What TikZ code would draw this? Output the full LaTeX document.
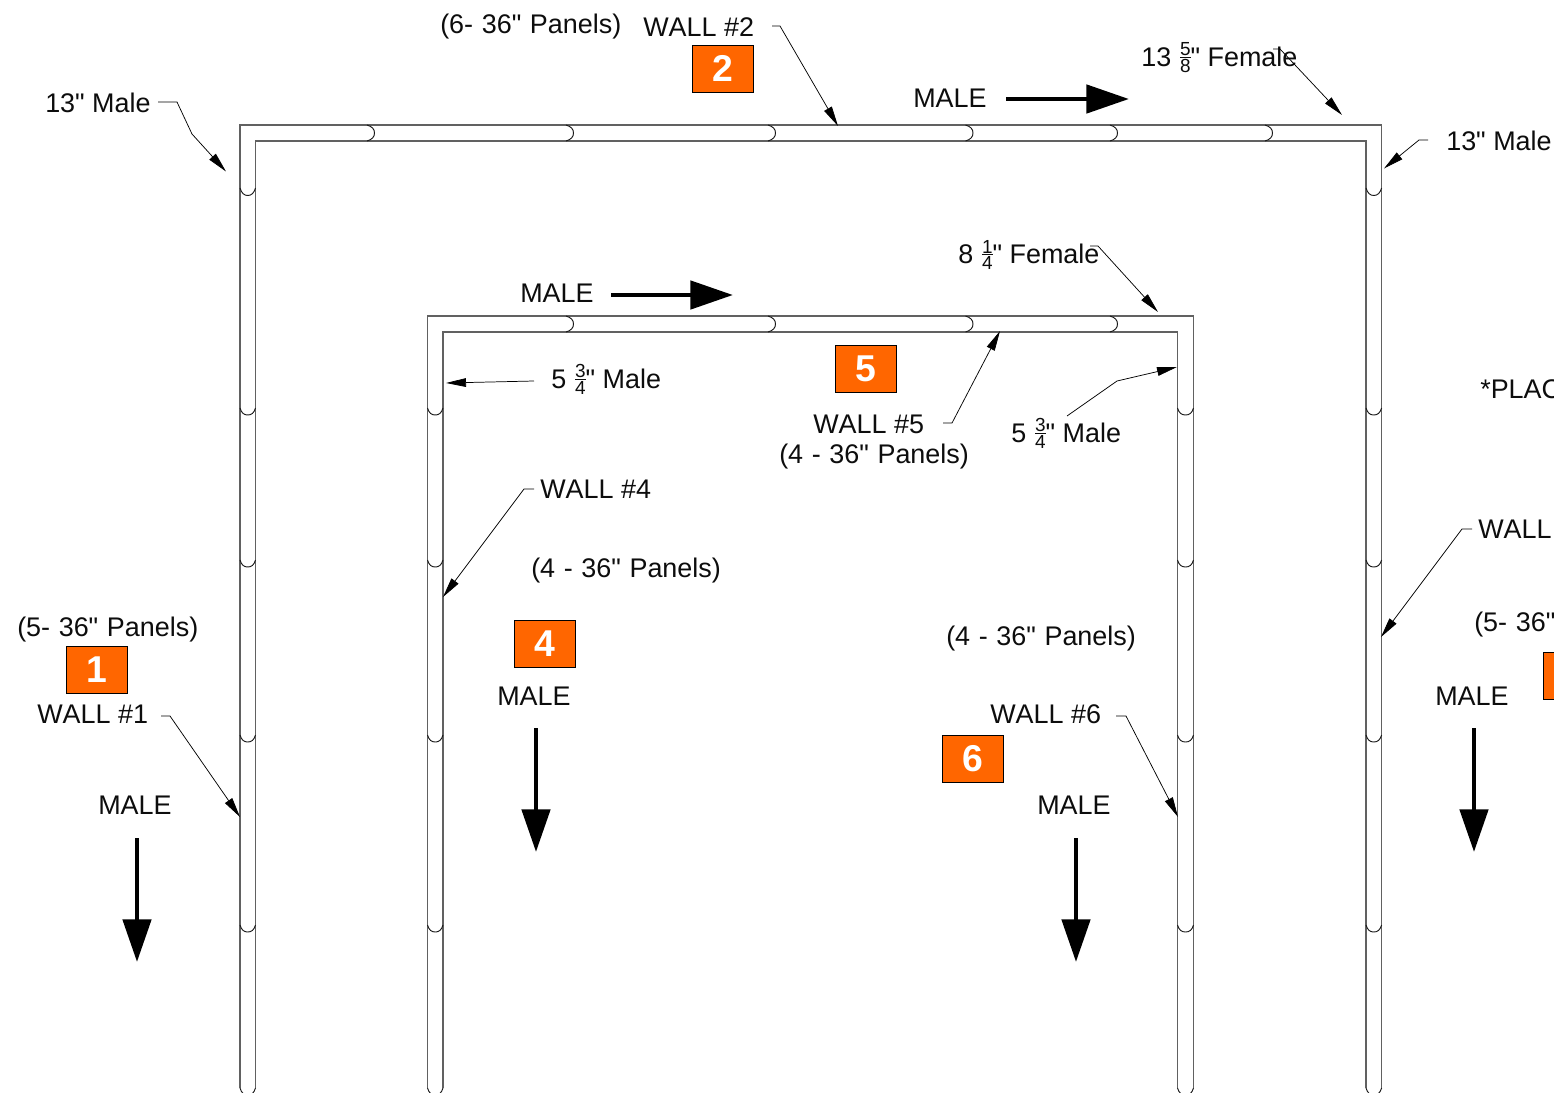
\documentclass[tikz,border=0pt]{standalone}
\usepackage{fontspec}
\setmainfont{Liberation Sans}[Ligatures=TeXOff,Kerning=Off]
\usetikzlibrary{arrows.meta}
\newfontfamily\boldnum{Liberation Sans Bold}
\newcommand{\fr}[2]{\kern1pt\lower4.6pt\vbox{\offinterlineskip\fontsize{14.2}{14.2}\selectfont\halign{\hfil##\hfil\cr\hbox{#1}\cr\noalign{\vskip1.1pt\hrule height .5pt\vskip1.1pt}\hbox{#2}\cr}}}
\tikzset{
  wall/.style={line width=.85pt,draw=black!62},
  joint/.style={line width=.7pt,draw=black!90},
  leader/.style={line width=.55pt,draw=black,-{Triangle[length=15pt,width=6.5pt]}},
  bigarrow/.style={line width=3.6pt,draw=black,-{Triangle[length=32pt,width=21pt]}},
  lbl/.style={anchor=base west,inner sep=0pt,font=\fontsize{20.2}{24}\selectfont,text=black!95},
  panel/.style={lbl,execute at begin node={\spaceskip=.32em\relax}},
  numbox/.style={draw=black,line width=.5pt,fill=numorange,minimum width=46pt,minimum height=35pt,inner sep=0pt,text=white,font=\boldnum\fontsize{28}{30}\selectfont},
}
\definecolor{numorange}{HTML}{FF6600}
\begin{document}
\begin{tikzpicture}[x=.75pt,y=-.75pt]
\useasboundingbox (0,0) rectangle (1554,1093);
\clip (0,0) rectangle (1554,1093);
\fill[white] (0,0) rectangle (1554,1093);
% walls
\draw[wall] (240,1088) -- (240,125) -- (1381.6,125) -- (1381.6,1088);
\draw[wall] (255.5,1088) -- (255.5,141) -- (1366,141) -- (1366,1088);
\draw[wall] (427.5,1088) -- (427.5,316) -- (1193.5,316) -- (1193.5,1088);
\draw[wall] (443,1088) -- (443,332) -- (1177.5,332) -- (1177.5,1088);
% vertical joints
\foreach \xa/\xb in {240/255.5,1366/1381.6,427.5/443,1177.5/1193.5}
  \foreach \s in {408,560,735,925,1088}
    \draw[joint] (\xa,\s) .. controls ({\xa+1.5},{\s+5}) and ({\xa+4},{\s+7}) .. ({(\xa+\xb)/2},{\s+7})
                 .. controls ({\xb-4},{\s+7}) and ({\xb-1.5},{\s+5}) .. (\xb,\s);
\foreach \xa/\xb in {240/255.5,1366/1381.6}
  \draw[joint] (\xa,188) .. controls ({\xa+1.5},193) and ({\xa+4},195.5) .. ({(\xa+\xb)/2},195.5)
               .. controls ({\xb-4},195.5) and ({\xb-1.5},193) .. (\xb,188);
% horizontal joints
\foreach \s in {367,566,768,965.5,1110,1265}
  \draw[joint] (\s,125) .. controls ({\s+5},126.5) and ({\s+7.5},129) .. ({\s+7.5},133)
               .. controls ({\s+7.5},137) and ({\s+5},139.5) .. (\s,141);
\foreach \s in {566,768,965.5,1110}
  \draw[joint] (\s,316) .. controls ({\s+5},317.5) and ({\s+7.5},320) .. ({\s+7.5},324)
               .. controls ({\s+7.5},328) and ({\s+5},330.5) .. (\s,332);
% number boxes
\node[numbox] (b1) at (97,669.5) {1};
\node[numbox] (b2) at (722.5,68.5) {2};
\node[numbox] (b4) at (544.5,643.5) {4};
\node[numbox] (b5) at (865.5,368.5) {5};
\node[numbox] (b6) at (972.5,758.5) {6};
\node[numbox] (b3) at (1574,675.5) {};
% labels
\node[panel] (p2) at (440,33) {(6- 36" Panels)};
\node[lbl] (w2) at (643,36) {WALL \#2};
\node[lbl] (m13l) at (45,112.5) {13" Male};
\node[lbl] (f13) at (1141,66) {13 \fr{5}{8}" Female};
\node[lbl] (m13r) at (1446,150.5) {13" Male};
\node[lbl] (mt) at (913,107.5) {MALE};
\node[lbl] (f8) at (958,263.5) {8 \fr{1}{4}" Female};
\node[lbl] (mi) at (520,302.5) {MALE};
\node[lbl] (m5l) at (551,388) {5 \fr{3}{4}" Male};
\node[lbl] (pl) at (1480,398) {*PLAC};
\node[lbl] (w5) at (813,433.5) {WALL \#5};
\node[panel] (p5) at (779,463.5) {(4 - 36" Panels)};
\node[lbl] (m5r) at (1011,442) {5 \fr{3}{4}" Male};
\node[lbl] (w4) at (540,498.5) {WALL \#4};
\node[lbl] (w3) at (1478,538.5) {WALL};
\node[panel] (p4) at (531,577.5) {(4 - 36" Panels)};
\node[panel] (p1) at (17,636.5) {(5- 36" Panels)};
\node[panel] (p3) at (1474,631.5) {(5- 36"};
\node[panel] (p6) at (946,645.5) {(4 - 36" Panels)};
\node[lbl] (m4) at (497,705.5) {MALE};
\node[lbl] (m3) at (1435,705.5) {MALE};
\node[lbl] (w1) at (37,723.5) {WALL \#1};
\node[lbl] (w6) at (990,723.5) {WALL \#6};
\node[lbl] (m1) at (98,814.5) {MALE};
\node[lbl] (m6) at (1037,814.5) {MALE};
% leader points
\coordinate (a1) at (158,102);   \coordinate (a2) at (177,102);   \coordinate (a3) at (192,134);   \coordinate (a4) at (226,171.5);
\coordinate (c1) at (1273,49);   \coordinate (c2) at (1280,49);   \coordinate (c3) at (1342,115);
\coordinate (d1) at (1428,140);  \coordinate (d2) at (1419,140);  \coordinate (d3) at (1384,168.5);
\coordinate (e1) at (772,26);    \coordinate (e2) at (780,26);    \coordinate (e3) at (838,126);
\coordinate (g1) at (1090,246);  \coordinate (g2) at (1098,246);  \coordinate (g3) at (1158,312);
\coordinate (h1) at (943,423);   \coordinate (h2) at (952,423);   \coordinate (h3) at (1000,331);
\coordinate (i1) at (1067,416);  \coordinate (i2) at (1117,381);  \coordinate (i3) at (1177,367);
\coordinate (j1) at (534,381);   \coordinate (j2) at (446,383);
\coordinate (k1) at (534,489);   \coordinate (k2) at (524,489);   \coordinate (k3) at (443,597);
\coordinate (l1) at (1472,529);  \coordinate (l2) at (1462,529);  \coordinate (l3) at (1381,637);
\coordinate (n1) at (161,716);   \coordinate (n2) at (170,716);   \coordinate (n3) at (240,817);
\coordinate (o1) at (1116,716);  \coordinate (o2) at (1126,716);  \coordinate (o3) at (1178,817);
\draw[leader] (a1) -- (a2) -- (a3) -- (a4);
\draw[leader] (c1) -- (c2) -- (c3);
\draw[leader] (d1) -- (d2) -- (d3);
\draw[leader] (e1) -- (e2) -- (e3);
\draw[leader] (g1) -- (g2) -- (g3);
\draw[leader] (h1) -- (h2) -- (h3);
\draw[leader] (i1) -- (i2) -- (i3);
\draw[leader] (j1) -- (j2);
\draw[leader] (k1) -- (k2) -- (k3);
\draw[leader] (l1) -- (l2) -- (l3);
\draw[leader] (n1) -- (n2) -- (n3);
\draw[leader] (o1) -- (o2) -- (o3);
% direction arrows
\coordinate (q1) at (1006,99);  \coordinate (q2) at (1129,99);
\coordinate (r1) at (611,295);  \coordinate (r2) at (733,295);
\coordinate (s1) at (536,728);  \coordinate (s2) at (536,852);
\coordinate (t1) at (1474,728); \coordinate (t2) at (1474,852);
\coordinate (u1) at (137,838);  \coordinate (u2) at (137,962);
\coordinate (v1) at (1076,838); \coordinate (v2) at (1076,962);
\draw[bigarrow] (q1) -- (q2);
\draw[bigarrow] (r1) -- (r2);
\draw[bigarrow] (s1) -- (s2);
\draw[bigarrow] (t1) -- (t2);
\draw[bigarrow] (u1) -- (u2);
\draw[bigarrow] (v1) -- (v2);
\end{tikzpicture}
\end{document}
